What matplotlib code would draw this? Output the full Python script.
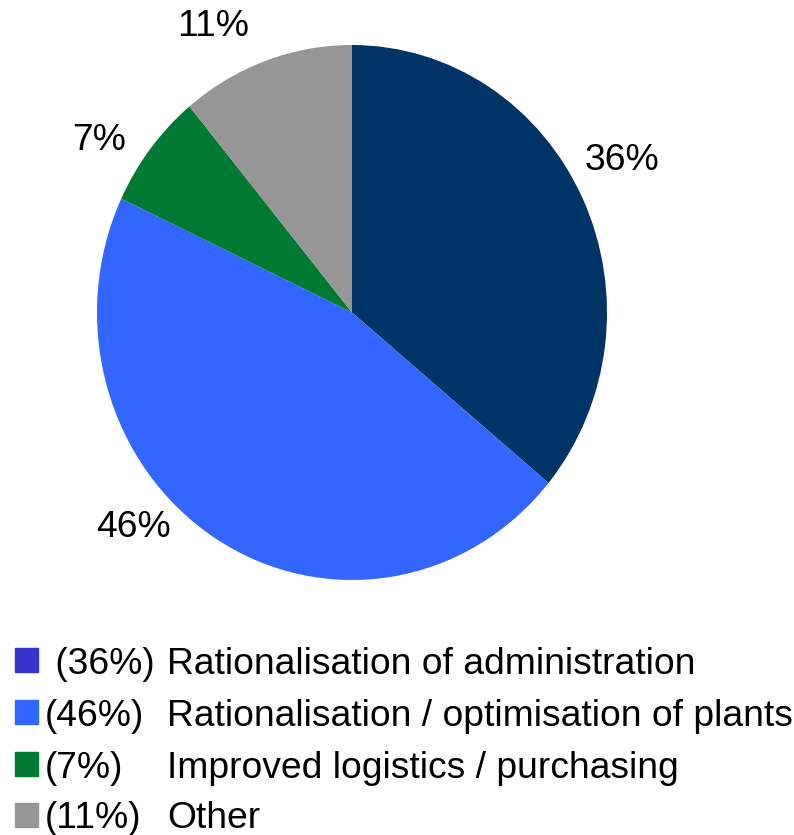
import matplotlib.pyplot as plt

plt.rcParams['font.family'] = ['Liberation Sans', 'DejaVu Sans']

shares = [36, 46, 7, 11]
slice_labels = ['36%', '46%', '7%', '11%']
slice_colors = ['#003366', '#3366ff', '#007a33', '#969696']

legend_pct = [' (36%)', '(46%)', '(7%)', '(11%)']
legend_text = ['Rationalisation of administration',
               'Rationalisation / optimisation of plants',
               'Improved logistics / purchasing',
               'Other']
legend_colors = ['#3333cc', '#3366ff', '#007a33', '#969696']

# small shifts of the slice labels away from the default spot (axes units)
label_nudge = [(-0.02, 0.06), (-0.22, 0.20), (-0.05, -0.085), (-0.14, -0.05)]

W, H = 794, 835
fs = 26.8
fig = plt.figure(figsize=(W / 100, H / 100), dpi=100)

# pie drawn slightly taller than wide
ax = fig.add_axes([97 / W, (H - 580) / H, 510 / W, 535 / H])
wedges, texts = ax.pie(shares, labels=slice_labels, colors=slice_colors,
                       startangle=90, counterclock=False, labeldistance=1.19,
                       textprops={'fontsize': fs, 'color': 'black'},
                       wedgeprops={'linewidth': 0})
for t, (dx, dy) in zip(texts, label_nudge):
    x, y = t.get_position()
    t.set_position((x + dx, y + dy))
    t.set_ha('center')
    t.set_va('center')
ax.set_aspect('auto')
ax.set_xlim(-1, 1)
ax.set_ylim(-1, 1)

# legend rows
row_y = [660, 712, 764, 815]
for y, pct, txt, col in zip(row_y, legend_pct, legend_text, legend_colors):
    fig.patches.append(plt.Rectangle((15 / W, (H - y - 12) / H), 23 / W, 24 / H,
                                     transform=fig.transFigure, color=col))
    fig.text(45 / W, (H - y - 4) / H, pct, fontsize=fs, va='center', ha='left')
    fig.text(167 / W, (H - y - 4) / H, txt, fontsize=fs, va='center', ha='left')

fig.savefig('out.png', dpi=100)
